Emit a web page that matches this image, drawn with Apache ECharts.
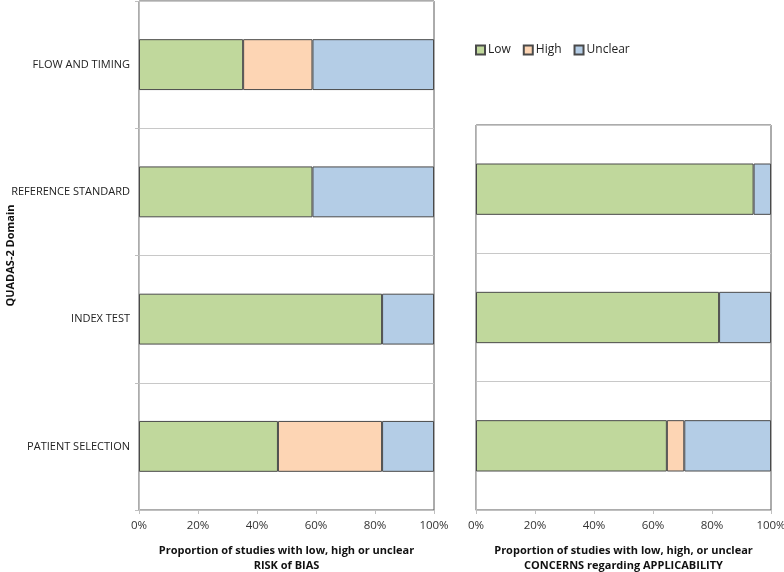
<!DOCTYPE html>
<html>
<head>
<meta charset="utf-8">
<script src="https://cdn.jsdelivr.net/npm/echarts@6/dist/echarts.min.js"></script>
<style>
  html, body { margin: 0; padding: 0; background: #fff; }
  #chart { width: 784px; height: 572px; }
</style>
</head>
<body>
<div id="chart"></div>
<script>
// domains, bottom to top
var biasDomains = ['PATIENT SELECTION', 'INDEX TEST', 'REFERENCE STANDARD', 'FLOW AND TIMING'];
var applDomains = ['PATIENT SELECTION', 'INDEX TEST', 'REFERENCE STANDARD'];

// risk of bias (%)
var biasLow = [47.1, 82.4, 58.8, 35.3];
var biasHigh = [35.3, null, null, 23.5];
var biasUnclear = [17.6, 17.6, 41.2, 41.2];

// applicability concerns (%)
var applLow = [64.7, 82.4, 94.1];
var applHigh = [5.9, null, null];
var applUnclear = [29.4, 17.6, 5.9];

var pctTicks = [0, 20, 40, 60, 80, 100];

var colors = { Low: '#C0D89C', High: '#FDD5B4', Unclear: '#B4CDE6' };
var font = "'Open Sans', 'Liberation Sans', sans-serif";

function xAx (gridIndex, name) {
    return {
        type: 'value', gridIndex: gridIndex,
        min: pctTicks[0], max: pctTicks[pctTicks.length - 1], interval: 20,
        axisLine: { show: true, lineStyle: { color: '#BFBFBF' } },
        axisTick: { show: true, length: 4, lineStyle: { color: '#BFBFBF' } },
        axisLabel: { formatter: '{value}%', color: '#333', fontSize: 11.5, fontFamily: font, margin: 10 },
        splitLine: { show: false },
        name: name, nameLocation: 'middle', nameGap: 33, nameMoveOverlap: false,
        nameTextStyle: { fontWeight: 'bold', fontSize: 11, color: '#111', fontFamily: font, lineHeight: 15 }
    };
}

function yAx (gridIndex, data, showLabels) {
    return {
        type: 'category', gridIndex: gridIndex, data: data,
        axisLine: { show: true, lineStyle: { color: '#BFBFBF' } },
        axisTick: { show: showLabels, length: 4, lineStyle: { color: '#BFBFBF' } },
        axisLabel: { show: showLabels, color: '#222', fontSize: 11, fontFamily: font, margin: 9 },
        splitLine: { show: true, lineStyle: { color: '#C8C8C8' } }
    };
}

function bar (name, data, idx) {
    return {
        name: name, type: 'bar', stack: 's' + idx,
        xAxisIndex: idx, yAxisIndex: idx,
        barWidth: '40%', data: data,
        itemStyle: { color: colors[name], borderColor: '#4A4A4A', borderWidth: 1 },
        emphasis: { disabled: true }
    };
}

var myChart = echarts.init(document.getElementById('chart'));
var option = {
    animation: false,
    textStyle: { fontFamily: font },
    legend: {
        data: ['Low', 'High', 'Unclear'],
        left: 470, top: 39,
        itemWidth: 9, itemHeight: 9, itemGap: 12,
        icon: 'rect',
        textStyle: { fontSize: 12, color: '#222', fontFamily: font, padding: [0, 0, 0, -2] }
    },
    grid: [
        { left: 139, right: 350, top: 1, bottom: 62, show: true, borderColor: '#595959', borderWidth: 1,
          containLabel: false, outerBoundsMode: 'none' },
        { left: 476, right: 13, top: 125, bottom: 62, show: true, borderColor: '#595959', borderWidth: 1,
          containLabel: false, outerBoundsMode: 'none' }
    ],
    xAxis: [
        xAx(0, 'Proportion of studies with low, high or unclear\nRISK of BIAS'),
        xAx(1, 'Proportion of studies with low, high, or unclear\nCONCERNS regarding APPLICABILITY')
    ],
    yAxis: [
        Object.assign(yAx(0, biasDomains, true), {
            name: 'QUADAS-2 Domain', nameLocation: 'middle', nameGap: 123, nameMoveOverlap: false,
            nameTextStyle: { fontWeight: 'bold', fontSize: 11, color: '#111', fontFamily: font }
        }),
        yAx(1, applDomains, false)
    ],
    series: [
        bar('Low', biasLow, 0),
        bar('High', biasHigh, 0),
        bar('Unclear', biasUnclear, 0),
        bar('Low', applLow, 1),
        bar('High', applHigh, 1),
        bar('Unclear', applUnclear, 1)
    ]
};
myChart.setOption(option);
</script>
</body>
</html>
